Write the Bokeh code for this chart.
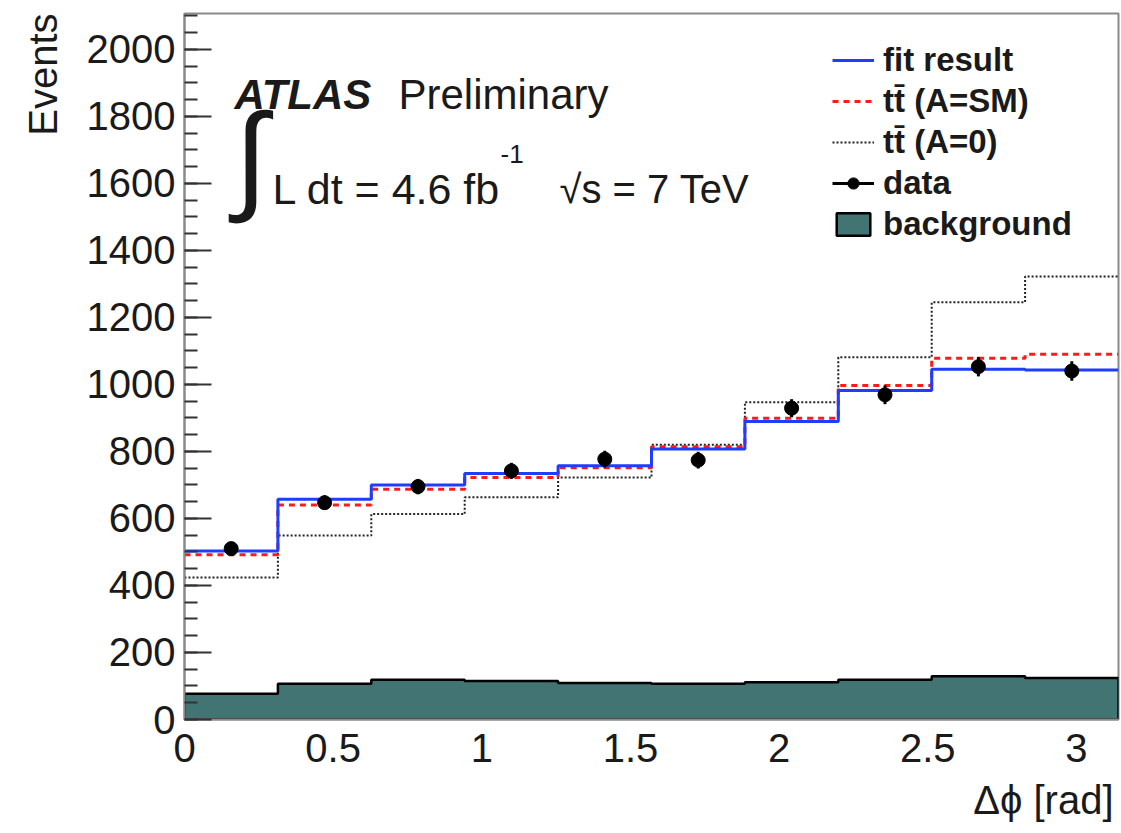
import numpy as np
from bokeh.plotting import figure
from bokeh.models import Range1d, Label, Legend, LegendItem, ColumnDataSource, FixedTicker, Title
from bokeh.embed import file_html
from bokeh.resources import INLINE

# ---------------- data ----------------
n_bins = 10
x_max = np.pi
fit_result = [503, 657, 700, 734, 757, 807, 889, 982, 1045, 1043]
tt_sm      = [492, 640, 687, 722, 751, 814, 899, 997, 1078, 1090]
tt_a0      = [424, 549, 613, 663, 722, 820, 947, 1081, 1245, 1322]
data_vals  = [510, 647, 695, 742, 777, 774, 929, 969, 1053, 1040]
data_errs  = [20, 22, 23, 24, 25, 25, 27, 28, 29, 29]
background = [77, 107, 119, 115, 109, 107, 111, 119, 129, 124]
y_ticks = [0, 200, 400, 600, 800, 1000, 1200, 1400, 1600, 1800, 2000]
x_ticks = [0, 0.5, 1, 1.5, 2, 2.5, 3]

edges = np.linspace(0, x_max, n_bins + 1)
centers = 0.5 * (edges[:-1] + edges[1:])

FONT = "Liberation Sans"
BKG = "#417472"

p = figure(width=1121, height=833, x_range=Range1d(0, x_max), y_range=Range1d(0, 2107),
           output_backend="svg", toolbar_location=None,
           min_border_left=184, min_border_right=3, min_border_top=13, min_border_bottom=114)
p.xgrid.visible = False
p.ygrid.visible = False
p.outline_line_color = "#8a8a8a"
p.outline_line_width = 2
p.background_fill_color = "white"
p.border_fill_color = "white"

# ---------------- background (filled step with outline) ----------------
bx = [edges[0]]
by = [0]
for i in range(n_bins):
    bx += [edges[i], edges[i + 1]]
    by += [background[i], background[i]]
bx += [edges[-1]]
by += [0]
r_bkg = p.patch(bx, by, fill_color=BKG, line_color="black", line_width=2.5)

# ---------------- model curves ----------------
r_a0 = p.step(list(edges), tt_a0 + [tt_a0[-1]], mode="after",
              line_color="#222222", line_width=2, line_dash="2 2")
r_sm = p.step(list(edges), tt_sm + [tt_sm[-1]], mode="after",
              line_color="#ff1a1a", line_width=3, line_dash="6 5")
r_fit = p.step(list(edges), fit_result + [fit_result[-1]], mode="after",
               line_color="#1f3dff", line_width=3)

# ---------------- data points ----------------
src = ColumnDataSource(dict(x=centers, y=data_vals,
                            lo=[v - e for v, e in zip(data_vals, data_errs)],
                            hi=[v + e for v, e in zip(data_vals, data_errs)]))
r_err = p.segment(x0="x", y0="lo", x1="x", y1="hi", source=src, line_color="black", line_width=3)
r_pts = p.scatter(x="x", y="y", source=src, size=14, marker="circle",
                  fill_color="black", line_color="black")

# ---------------- axes ----------------
p.yaxis.ticker = FixedTicker(ticks=y_ticks, minor_ticks=list(range(0, 2101, 50)))
p.xaxis.ticker = FixedTicker(ticks=x_ticks, minor_ticks=[])
p.xaxis.major_label_overrides = {t: f"{t:g}" for t in x_ticks}
for ax in (p.xaxis[0], p.yaxis[0]):
    ax.axis_line_color = "#8a8a8a"
    ax.axis_line_width = 2
    ax.major_label_text_font = FONT
    ax.major_label_text_font_size = "40px"
    ax.major_label_text_color = "#1a1a1a"
    ax.major_tick_out = 0
    ax.minor_tick_out = 0
p.yaxis.major_tick_in = 27
p.yaxis.minor_tick_in = 13
p.yaxis.major_tick_line_color = "#333333"
p.yaxis.minor_tick_line_color = "#333333"
p.yaxis.major_tick_line_width = 2
p.yaxis.minor_tick_line_width = 2
p.yaxis.major_label_standoff = 9
p.xaxis.major_tick_in = 0
p.xaxis.minor_tick_in = 0
p.xaxis.major_tick_line_color = None
p.xaxis.minor_tick_line_color = None
p.xaxis.major_label_standoff = 14

# axis titles as right-aligned titles in the side panels
p.add_layout(Title(text="Events", align="right", text_font=FONT, text_font_size="40px",
                   text_font_style="normal", text_color="#1a1a1a", standoff=37, offset=0), "left")
p.add_layout(Title(text="Δϕ [rad]", align="right", text_font=FONT, text_font_size="40px",
                   text_font_style="normal", text_color="#1a1a1a", standoff=23, offset=5), "below")

# ---------------- texts (frame-relative screen coords) ----------------
def lab(text, x, y, size, style="normal", align="left", angle=0, color="#1a1a1a"):
    p.add_layout(Label(x=x, y=y, x_units="screen", y_units="screen", text=text,
                       text_font=FONT, text_font_size=size, text_font_style=style,
                       text_align=align, text_baseline="alphabetic", angle=angle,
                       text_color=color))

lab("ATLAS", 50, 625, "42px", style="bold italic")
lab("Preliminary", 214, 625, "42px")
lab("∫", 50, 564, "120px")
lab("L dt = 4.6 fb", 88, 531, "43px")
lab("-1", 316, 566, "26px")
lab("√s = 7 TeV", 375, 531, "40px")

# ---------------- legend ----------------
legend = Legend(items=[
    LegendItem(label="fit result", renderers=[r_fit]),
    LegendItem(label="tt\u0304 (A=SM)", renderers=[r_sm]),
    LegendItem(label="tt\u0304 (A=0)", renderers=[r_a0]),
    LegendItem(label="data", renderers=[r_err, r_pts]),
    LegendItem(label="background", renderers=[r_bkg]),
], location=(648, 476))
legend.padding = 0
legend.margin = 0
legend.spacing = 3
legend.glyph_width = 42
legend.glyph_height = 28
legend.label_height = 28
legend.label_standoff = 9
legend.label_text_font = FONT
legend.label_text_font_size = "33px"
legend.label_text_font_style = "bold"
legend.label_text_color = "#1a1a1a"
legend.border_line_alpha = 0
legend.background_fill_alpha = 0
p.add_layout(legend)

open("out.html", "w").write(file_html(p, INLINE))
